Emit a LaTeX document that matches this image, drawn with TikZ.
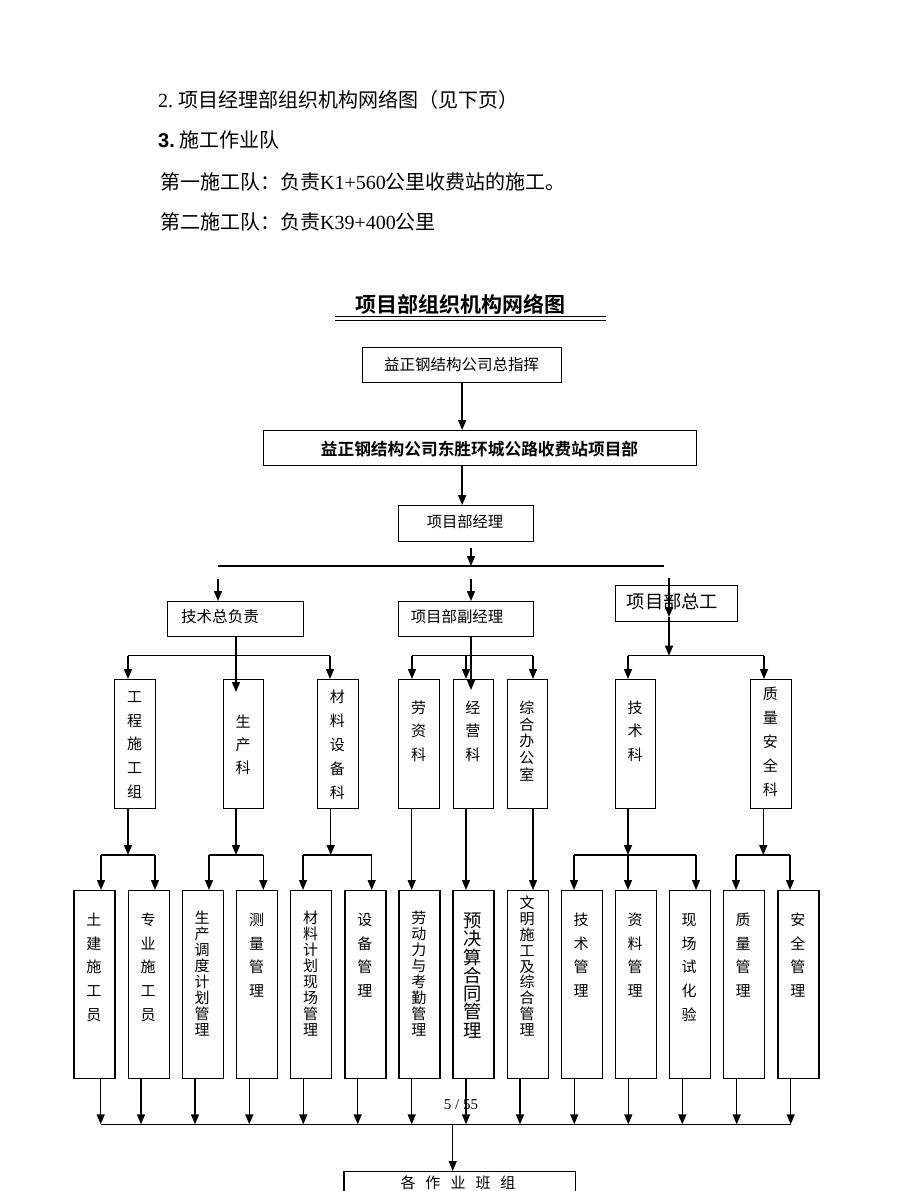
\documentclass[tikz,border=0pt]{standalone}
\usepackage{fontspec}
\setmainfont{Liberation Serif}
\setsansfont{Liberation Sans}
\newfontfamily\cjk{Noto Sans CJK SC}[BoldFont={Noto Sans CJK SC Bold}]
\usetikzlibrary{arrows.meta}
\newcommand\fs[1]{\fontsize{#1}{#1}\selectfont}
\tikzset{
  box/.style={draw, line width=1.3pt, inner sep=0pt, anchor=north west},
  conn/.style={line width=1.4pt},
  arr/.style={line width=1.4pt, -{Triangle[length=10pt,width=8pt]}},
  ht/.style={inner sep=0pt},
  vch/.style={inner sep=0pt, text height=12pt, text depth=1.2pt},
}
\newcommand\bx[5]{\pgfmathsetmacro\bw{#4-#2}\pgfmathsetmacro\bh{#5-#3}%
  \node[box, minimum width=\bw pt, minimum height=\bh pt] (#1) at (#2,#3) {};}
\newcommand\vtext[6]{\foreach \ch [count=\i from 0] in {#6}
  {\node[vch, font={\cjk\fs{#5}}] (#1\i) at ({#2},{#3+\i*(#4)}) {\ch};}}
\begin{document}
\begin{tikzpicture}[x=1pt,y=-1pt]
\fill[white] (0,0) rectangle (920,1191);
\useasboundingbox (0,0) rectangle (920,1191);

% body text
\node[ht, anchor=base west] (p1) at (158,107) {\fs{20}2.\hspace{5pt}{\cjk 项目经理部组织机构网络图（见下页）}};
\node[ht, anchor=base west] (p2) at (158,147) {\fs{20}{\sffamily\bfseries 3.}\hspace{5pt}{\cjk 施工作业队}};
\node[ht, anchor=base west] (p3) at (160,189) {\fs{20}{\cjk 第一施工队：负责}K1+560{\cjk 公里收费站的施工。}};
\node[ht, anchor=base west] (p4) at (160,229) {\fs{20}{\cjk 第二施工队：负责}K39+400{\cjk 公里}};

% title
\node[ht] (title) at (460,304) {\cjk\bfseries\fs{21}项目部组织机构网络图};
\coordinate (u1) at (335,316.7); \coordinate (u2) at (606,316.7);
\coordinate (u3) at (335,320.2); \coordinate (u4) at (606,320.2);
\draw[line width=1.1pt] (u1) -- (u2);
\draw[line width=1.1pt] (u3) -- (u4);

% page number
\node[ht] (pg) at (461,1105) {\fs{15}5 / 55};

% top boxes
\bx{zhz}{362}{347}{561}{382}
\bx{xmb}{263}{430}{696}{465}
\bx{jl}{398}{505}{533}{541}
\bx{jsz}{167}{601}{303}{636}
\bx{fjl}{398}{601}{533}{636}
\bx{zg}{615}{585}{737}{621}
\node[ht, font={\cjk\fs{15.5}}] (zhzT) at (461.5,365) {益正钢结构公司总指挥};
\node[ht, font={\cjk\bfseries\fs{16.7}}] (xmbT) at (479.5,449) {益正钢结构公司东胜环城公路收费站项目部};
\node[ht, font={\cjk\fs{15.3}}] (jlT) at (465,522) {项目部经理};
\node[ht, font={\cjk\fs{15.6}}] (jszT) at (220,617) {技术总负责};
\node[ht, font={\cjk\fs{15.4}}] (fjlT) at (457,617) {项目部副经理};
\node[ht, font={\cjk\fs{18.3}}] (zgT) at (672.5,601) {项目部总工};

% level 5 boxes
\bx{a1}{114}{679}{155}{808}
\bx{a2}{222.7}{679}{263}{808}
\bx{a3}{317}{679}{357.7}{808}
\bx{a4}{398}{679}{439}{808}
\bx{a5}{452.7}{679}{493}{808}
\bx{a6}{506.7}{679}{547}{808}
\bx{a7}{615}{679}{655}{808}
\bx{a8}{750}{679}{790.7}{808}
\vtext{a1c}{134.5}{697}{23.7}{15}{工,程,施,工,组}
\vtext{a2c}{243}{721.7}{23.3}{15}{生,产,科}
\vtext{a3c}{337.3}{697}{24}{15}{材,料,设,备,科}
\vtext{a4c}{418.5}{708}{23.5}{15}{劳,资,科}
\vtext{a5c}{472.8}{708}{23.5}{15}{经,营,科}
\vtext{a6c}{526.8}{708}{16.7}{15}{综,合,办,公,室}
\vtext{a7c}{635}{708}{23.5}{15}{技,术,科}
\vtext{a8c}{770.3}{694}{24}{15}{质,量,安,全,科}

% level 6 boxes
\bx{t1}{73.3}{890}{114.3}{1078}
\bx{t2}{127.7}{890}{168.7}{1078}
\bx{t3}{181.7}{890}{222.7}{1078}
\bx{t4}{236}{890}{277}{1078}
\bx{t5}{290}{890}{331}{1078}
\bx{t6}{344.3}{890}{385.3}{1078}
\bx{t7}{398.3}{890}{439.3}{1078}
\bx{t8}{452.3}{890}{493.3}{1078}
\bx{t9}{506.7}{890}{547.7}{1078}
\bx{t10}{560.7}{890}{601.7}{1078}
\bx{t11}{614.7}{890}{655.7}{1078}
\bx{t12}{668.7}{890}{709.7}{1078}
\bx{t13}{722.7}{890}{763.7}{1078}
\bx{t14}{777.3}{890}{818.3}{1078}
\vtext{t1c}{93.8}{920}{23.7}{15}{土,建,施,工,员}
\vtext{t2c}{148.2}{920}{23.7}{15}{专,业,施,工,员}
\vtext{t3c}{202.2}{918}{16}{15}{生,产,调,度,计,划,管,理}
\vtext{t4c}{256.5}{920}{23.7}{15}{测,量,管,理}
\vtext{t5c}{310.5}{918}{16}{15}{材,料,计,划,现,场,管,理}
\vtext{t6c}{364.8}{920}{23.7}{15}{设,备,管,理}
\vtext{t7c}{418.8}{918}{16}{15}{劳,动,力,与,考,勤,管,理}
\vtext{t8c}{472.8}{922}{18.3}{18.3}{预,决,算,合,同,管,理}
\vtext{t9c}{527.2}{903}{15.9}{15}{文,明,施,工,及,综,合,管,理}
\vtext{t10c}{581.2}{920}{23.7}{15}{技,术,管,理}
\vtext{t11c}{635.2}{920}{23.7}{15}{资,料,管,理}
\vtext{t12c}{689.2}{920}{23.7}{15}{现,场,试,化,验}
\vtext{t13c}{743.2}{920}{23.7}{15}{质,量,管,理}
\vtext{t14c}{797.8}{920}{23.7}{15}{安,全,管,理}

% final box
\bx{fin}{343.3}{1171}{575}{1215}
\node[ht, font={\cjk\fs{15}}] (finT) at (458,1183) {各\hspace{10pt}作\hspace{10pt}业\hspace{10pt}班\hspace{10pt}组};

% ---------------- connectors ----------------
\draw[arr] (zhz.south) -- (zhz.south |- xmb.north);
\draw[arr] (zhz.south |- xmb.south) -- (zhz.south |- jl.north);
\coordinate (m0) at (471,548);
\coordinate (k1) at (218,566); \coordinate (k2) at (664,566);
\draw[arr] (m0) -- (m0 |- k1);
\draw[conn] (k1) -- (k2);
\coordinate (s1) at (218,579); \draw[arr] (s1) -- (s1 |- jsz.north);
\coordinate (s2) at (471,579); \draw[arr] (s2) -- (s2 |- fjl.north);
\coordinate (r0) at (669,578); \coordinate (r1) at (669,617); \coordinate (r2) at (669,655.7);
\draw[arr] (r0) -- (r1);
\draw[arr] (r1) -- (r2);

% level 4 -> 5
\coordinate (pL1) at (128,655.7); \coordinate (pL2) at (330,655.7);
\draw[conn] (pL1) -- (pL2);
\draw[arr] (pL1) -- (pL1 |- a1.north);
\draw[arr] (pL2) -- (pL2 |- a3.north);
\coordinate (q1) at (236,692);
\draw[arr] (q1 |- jsz.south) -- (q1);
\coordinate (pM1) at (412,655.7); \coordinate (pM2) at (466,655.7); \coordinate (pM3) at (533,655.7);
\draw[conn] (pM1) -- (pM3);
\draw[arr] (pM1) -- (pM1 |- a4.north);
\draw[arr] (pM2) -- (pM2 |- a5.north);
\draw[arr] (pM3) -- (pM3 |- a6.north);
\coordinate (q2) at (471,690);
\draw[arr] (q2 |- fjl.south) -- (q2);
\coordinate (pR1) at (628,655.7); \coordinate (pR2) at (764,655.7);
\draw[conn] (pR1) -- (pR2);
\draw[arr] (pR1) -- (pR1 |- a7.north);
\draw[arr] (pR2) -- (pR2 |- a8.north);

% level 5 -> 6
\coordinate (b1L) at (101,855); \coordinate (b1R) at (155,855); \coordinate (b1M) at (128,855);
\draw[conn] (b1L) -- (b1R);
\draw[arr] (b1M |- a1.south) -- (b1M);
\draw[arr] (b1L) -- (b1L |- t1.north);
\draw[arr] (b1R) -- (b1R |- t2.north);
\coordinate (b2L) at (209,855); \coordinate (b2R) at (263.3,855); \coordinate (b2M) at (236,855);
\draw[conn] (b2L) -- (b2R);
\draw[arr] (b2M |- a2.south) -- (b2M);
\draw[arr] (b2L) -- (b2L |- t3.north);
\draw[arr] (b2R) -- (b2R |- t4.north);
\coordinate (b3L) at (303,855); \coordinate (b3R) at (371.7,855); \coordinate (b3M) at (330.7,855);
\draw[conn] (b3L) -- (b3R);
\draw[arr] (b3M |- a3.south) -- (b3M);
\draw[arr] (b3L) -- (b3L |- t5.north);
\draw[arr] (b3R) -- (b3R |- t6.north);
\coordinate (d4) at (411.7,808); \draw[arr] (d4 |- a4.south) -- (d4 |- t7.north);
\coordinate (d5) at (466,808); \draw[arr] (d5 |- a5.south) -- (d5 |- t8.north);
\coordinate (d6) at (533,808); \draw[arr] (d6 |- a6.south) -- (d6 |- t9.north);
\coordinate (b4L) at (574,855); \coordinate (b4R) at (696,855); \coordinate (b4M) at (628,855);
\draw[conn] (b4L) -- (b4R);
\draw[arr] (b4M |- a7.south) -- (b4M);
\draw[arr] (b4L) -- (b4L |- t10.north);
\draw[arr] (b4M) -- (b4M |- t11.north);
\draw[arr] (b4R) -- (b4R |- t12.north);
\coordinate (b5L) at (736,855); \coordinate (b5R) at (790,855); \coordinate (b5M) at (763.3,855);
\draw[conn] (b5L) -- (b5R);
\draw[arr] (b5M |- a8.south) -- (b5M);
\draw[arr] (b5L) -- (b5L |- t13.north);
\draw[arr] (b5R) -- (b5R |- t14.north);

% level 6 -> bottom
\foreach \x [count=\i] in {100.7,141,195,249.3,303.3,357.7,411.7,466,520,574.3,628.3,682.3,736.7,790.7}
  {\coordinate (e\i) at (\x,1124.3); \draw[arr] (e\i |- t\i.south) -- (e\i);}
\draw[conn] (e1) -- (e14);
\coordinate (f0) at (452.7,1124.3);
\draw[arr] (f0) -- (f0 |- fin.north);
\end{tikzpicture}
\end{document}
